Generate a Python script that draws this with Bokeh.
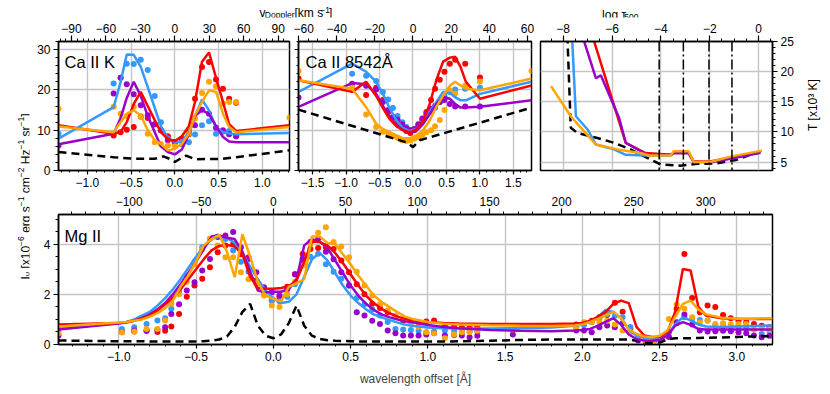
import math
from bokeh.plotting import figure
from bokeh.models import (Range1d, LinearAxis, SingleIntervalTicker, Label, Span,
                          CustomJSTickFormatter)
from bokeh.layouts import row, column
from bokeh.embed import file_html
from bokeh.resources import INLINE

NAN = float("nan")
C_KMS = 299792.458
LAM_CAK = 3933.66
LAM_CA8 = 8542.09
LAM_MGK = 2796.35

RED = "#ff0000"
BLUE = "#3399ff"
PURPLE = "#9900cc"
ORANGE = "#ffa500"

# ---------------- Ca II K ----------------
CAK_X = [-1.33, -0.70, -0.62, -0.55, -0.47, -0.39, -0.31, -0.23, -0.16, -0.08, 0.0,
         0.08, 0.16, 0.23, 0.31, 0.39, 0.47, 0.55, 0.62, 0.70, 1.31]
CAK_FIT_BLUE = [7.9, 15.7, 22.0, 28.8, 28.7, 25.7, 20.7, 15.5, 11.0, 8.0, 7.0, 7.2, 9.5, 13.5, 17.6, 14.9, 10.8, 9.5, 9.2, 9.0, 9.3]
CAK_FIT_RED = [11.2, 9.1, 9.6, 12.0, 16.5, 19.5, 16.0, 12.5, 9.5, 7.8, 7.3, 8.5, 11.0, 17.0, 27.0, 29.3, 23.0, 17.0, 11.5, 9.8, 11.2]
CAK_FIT_PURPLE = [6.5, 9.1, 13.0, 18.0, 22.0, 18.5, 13.5, 9.5, 6.0, 4.6, 4.0, 5.2, 9.0, 13.5, 15.0, 14.0, 11.0, 8.3, 7.2, 7.0, 7.0]
CAK_FIT_ORANGE = [10.9, 9.5, 12.0, 14.1, 14.9, 13.7, 10.0, 7.5, 6.6, 5.0, 5.4, 6.6, 9.1, 13.7, 17.0, 19.9, 19.5, 14.1, 10.8, 9.5, 10.8]
CAK_OBS_BLUE = [9.1, 21.6, 23.0, 26.5, 26.4, 27.5, 24.9, 18.5, 12.0, 7.9, 7.0, 6.5, 7.0, 8.9, 11.2, 12.2, 9.1, 9.6, 9.8, 8.5, NAN]
CAK_OBS_RED = [NAN, 8.7, 9.5, 10.1, 10.8, 13.4, 13.0, 11.5, 10.0, 8.5, 7.0, 7.5, 9.0, 17.8, 25.7, 26.9, 22.6, 20.3, 17.8, 16.8, NAN]
CAK_OBS_PURPLE = [6.2, 19.1, 23.0, 21.4, 18.9, 16.2, 13.7, 11.5, 10.0, 7.5, 7.0, 7.9, 9.5, 11.2, 15.1, 14.1, 10.6, 10.0, 9.0, 8.5, NAN]
CAK_OBS_ORANGE = [15.3, 15.8, 14.1, 13.5, 15.8, 13.3, 9.1, 7.0, 6.6, 6.2, 6.0, 7.0, 9.1, 12.9, 19.2, 22.0, 20.9, 16.6, 17.0, 17.0, 13.1]
CAK_REF_X = [-1.33, -0.70, -0.47, -0.23, -0.13, -0.06, 0.0, 0.06, 0.13, 0.23, 0.55, 0.70, 1.31]
CAK_REF_Y = [4.6, 3.3, 2.9, 2.9, 3.5, 2.9, 2.1, 2.9, 3.7, 2.8, 2.9, 3.3, 5.0]

# ---------------- Ca II 8542 ----------------
CA8_X = [-1.71, -0.91, -0.70, -0.55, -0.45, -0.35, -0.25, -0.15, -0.05, 0.05, 0.15, 0.25,
         0.35, 0.45, 0.55, 0.63, 0.71, 0.79, 1.00, 1.77]
CA8_FIT_BLUE = [19.5, 26.5, 24.5, 22.0, 19.0, 15.5, 12.5, 10.5, 9.8, 10.3, 12.0, 14.5, 17.0, 19.5, 19.2, 18.2, 17.4, 17.4, 19.0, 22.0]
CA8_FIT_RED = [22.4, 19.5, 22.0, 18.5, 15.5, 12.8, 11.0, 10.0, 9.5, 10.2, 12.2, 16.5, 22.5, 27.0, 28.0, 28.2, 25.7, 22.0, 17.8, 21.1]
CA8_FIT_PURPLE = [15.8, 21.7, 21.4, 19.0, 16.0, 13.3, 11.3, 10.0, 9.3, 9.8, 11.5, 14.0, 16.5, 18.3, 17.8, 16.5, 15.6, 15.6, 15.8, 17.4]
CA8_FIT_ORANGE = [22.4, 20.3, 15.7, 11.6, 10.3, 9.5, 8.7, 8.0, 8.0, 8.7, 10.0, 12.4, 15.8, 18.6, 21.0, 22.0, 21.1, 20.3, 19.9, 22.8]
CA8_OBS_X = [-1.71, -0.91, -0.70, -0.55, -0.45, -0.37, -0.30, -0.23, -0.16, -0.10, -0.04, 0.02,
             0.08, 0.14, 0.20, 0.27, 0.33, 0.40, 0.47, 0.55, 0.63, 0.78, 1.00, 1.77]
CA8_OBS_BLUE = [NAN, 24.0, 23.5, 22.2, 19.5, 17.6, 15.5, 13.5, 12.0, 10.8, 10.1, 10.2, 11.0, 12.2, 13.5, 14.5, 15.5, 17.0, 18.5, 19.5, 20.1, 20.3, 20.5, NAN]
CA8_OBS_RED = [22.8, NAN, 18.7, 20.5, 17.5, 14.5, 13.0, 11.5, 10.6, 9.8, 9.3, 10.0, 11.2, 12.5, 14.5, 17.5, 20.3, 22.5, 24.5, 26.5, 27.5, 26.5, 23.1, NAN]
CA8_OBS_PURPLE = [18.1, 21.5, 21.0, 20.1, 17.0, 15.0, 13.3, 12.6, 11.5, 10.5, 10.0, 10.3, 11.5, 12.9, 14.0, 15.3, 16.0, 17.0, 17.5, 16.5, 15.9, 15.9, 15.9, NAN]
CA8_OBS_ORANGE = [24.7, 20.5, 13.9, 10.8, 9.6, 9.1, 8.5, 8.1, 7.5, 7.3, 7.5, 7.9, 8.3, 8.8, 9.5, 10.0, 11.0, 12.5, 15.0, 19.9, 19.1, 21.0, 22.1, 24.7]
CA8_REF_X = [-1.71, -0.10, 0.0, 0.10, 1.77]
CA8_REF_Y = [15.1, 7.0, 5.8, 7.5, 15.6]

# ---------------- Temperature ----------------
TAU_REF = [-7.83, -7.69, -7.41, -6.6, -5.92, -5.24, -4.56, -4.01, -3.2, -2.51, -1.7, -0.88, 0.07]
T_REF = [26.0, 10.7, 9.8, 9.0, 8.2, 7.1, 5.7, 4.6, 4.4, 4.7, 4.8, 5.4, 6.8]
TAU_BLUE = [-7.64, -7.48, -7.0, -6.66, -5.92, -5.44, -4.69, -3.6, -3.47, -2.86, -2.66, -1.9, -1.1, 0.07]
T_BLUE = [26.0, 12.6, 10.4, 7.9, 7.1, 6.2, 6.1, 6.1, 6.5, 6.5, 5.0, 5.1, 5.7, 6.5]
TAU_RED = [-6.81, -5.44, -4.63, -3.6, -3.47, -2.86, -2.66, -1.98, -1.16, 0.07]
T_RED = [26.0, 8.2, 6.5, 6.2, 6.5, 6.5, 5.1, 5.1, 5.7, 6.6]
TAU_PURPLE = [-7.22, -6.66, -6.46, -5.71, -5.44, -4.56, -3.6, -3.47, -2.86, -2.66, -1.9, -1.1, 0.07]
T_PURPLE = [26.0, 18.9, 19.4, 12.3, 8.2, 6.2, 6.2, 6.5, 6.5, 5.0, 5.0, 5.6, 6.6]
TAU_ORANGE = [-8.5, -7.69, -7.28, -6.66, -5.78, -4.83, -4.49, -3.6, -3.47, -2.86, -2.66, -1.91, -1.16, 0.14]
T_ORANGE = [17.6, 12.6, 10.7, 7.9, 7.1, 6.5, 6.1, 6.1, 6.8, 6.8, 5.0, 5.1, 5.9, 6.9]
TAU_MARKS = [-4.07, -3.08, -2.03, -1.09]

# ---------------- Mg II ----------------
MG_X = [-1.39, -1.0, -0.95, -0.9, -0.85, -0.8, -0.75, -0.7, -0.65, -0.6, -0.55, -0.5, -0.45, -0.4,
        -0.35, -0.3, -0.25, -0.2, -0.15, -0.1, -0.05, 0.0, 0.05, 0.1, 0.15, 0.2, 0.25, 0.3, 0.35,
        0.4, 0.45, 0.5, 0.55, 0.6, 0.65, 0.7, 0.75, 0.8, 0.85, 0.9, 1.0, 1.1, 1.2, 1.4, 1.6, 1.8,
        1.95, 2.0, 2.05, 2.1, 2.15, 2.2, 2.25, 2.3, 2.35, 2.4, 2.45, 2.5, 2.55, 2.6, 2.65, 2.7,
        2.75, 2.8, 2.9, 3.0, 3.1, 3.23]
MG_FIT_BLUE = [0.68, 0.85, 0.9, 1.0, 1.15, 1.3, 1.55, 1.85, 2.2, 2.6,
               3.05, 3.5, 3.9, 4.2, 4.3, 4.25, 4.05, 3.65, 3.1, 2.6,
               2.15, 1.85, 1.65, 1.7, 2.0, 2.7, 3.4, 3.65, 3.35, 2.85,
               2.35, 1.95, 1.65, 1.4, 1.2, 1.08, 0.98, 0.88, 0.8, 0.75,
               0.68, 0.65, 0.64, 0.64, 0.65, 0.68, 0.75, 0.8, 0.9, 1.1,
               1.38, 1.3, 1.05, 0.6, 0.35, 0.28, 0.25, 0.28, 0.4, 0.8,
               1.08, 0.96, 0.8, 0.72, 0.7, 0.72, 0.74, 0.76]
MG_FIT_RED = [0.8, 0.86, 0.9, 0.95, 1.05, 1.15, 1.35, 1.6, 1.85, 2.2,
              2.6, 3.0, 3.4, 3.75, 3.93, 3.97, 3.9, 3.6, 2.7, 2.25,
              2.22, 2.22, 2.25, 2.32, 2.55, 3.3, 4.1, 4.08, 3.95, 3.65,
              3.25, 2.8, 2.35, 1.95, 1.65, 1.42, 1.25, 1.12, 1.02, 0.97,
              0.9, 0.86, 0.84, 0.82, 0.82, 0.82, 0.84, 0.86, 0.95, 1.1,
              1.3, 1.62, 1.75, 1.65, 0.7, 0.36, 0.3, 0.3, 0.49, 1.3,
              3.01, 2.95, 1.5, 1.15, 1.05, 1.02, 1.02, 1.02]
MG_FIT_PURPLE = [0.6, 0.84, 0.88, 0.95, 1.05, 1.2, 1.4, 1.65, 2.0, 2.4,
                 2.85, 3.3, 3.8, 4.3, 4.35, 4.25, 4.2, 3.7, 2.9, 2.15,
                 2.08, 2.1, 2.1, 2.2, 2.6, 3.95, 4.2, 4.1, 3.85, 3.35,
                 2.85, 2.35, 1.95, 1.62, 1.38, 1.2, 1.09, 1.0, 0.93, 0.89,
                 0.78, 0.7, 0.65, 0.58, 0.55, 0.53, 0.56, 0.58, 0.62, 0.75,
                 0.9, 1.05, 0.78, 0.4, 0.22, 0.16, 0.15, 0.18, 0.35, 0.75,
                 0.89, 0.78, 0.62, 0.6, 0.6, 0.6, 0.6, 0.6]
MG_FIT_ORANGE = [0.72, 0.88, 0.9, 0.95, 1.0, 1.1, 1.25, 1.45, 1.75, 2.3,
                 2.75, 3.3, 3.95, 4.2, 4.37, 3.7, 2.68, 4.4, 3.5, 2.5,
                 1.95, 1.82, 1.72, 2.3, 2.45, 2.6, 4.3, 4.3, 4.05, 4.0,
                 3.6, 3.2, 2.75, 2.35, 1.95, 1.7, 1.5, 1.3, 1.12, 1.02,
                 0.9, 0.83, 0.8, 0.77, 0.75, 0.74, 0.76, 0.8, 0.9, 1.02,
                 1.15, 1.31, 1.05, 0.6, 0.42, 0.32, 0.29, 0.35, 0.56, 1.1,
                 1.62, 1.75, 1.4, 1.2, 1.07, 1.03, 1.03, 1.05]
MG_REF = [0.16, 0.13, 0.13, 0.13, 0.13, 0.12, 0.12, 0.12, 0.12, 0.12,
          0.12, 0.12, 0.13, 0.15, 0.2, 0.32, 0.7, 1.3, 1.62, 0.75,
          0.35, 0.25, 0.4, 0.85, 1.55, 0.75, 0.35, 0.22, 0.17, 0.15,
          0.14, 0.13, 0.12, 0.12, 0.12, 0.12, 0.12, 0.12, 0.12, 0.12,
          0.12, 0.12, 0.13, 0.15, 0.18, 0.2, 0.2, 0.2, 0.2, 0.2,
          0.2, 0.2, 0.2, 0.2, 0.15, 0.08, 0.06, 0.08, 0.2, 0.25,
          0.25, 0.25, 0.26, 0.27, 0.28, 0.3, 0.32, 0.33]

MG_OBS_X = [-1.39, -0.98, -0.90, -0.82, -0.75, -0.70, -0.66, -0.61, -0.56, -0.51, -0.46, -0.41,
            -0.36, -0.31, -0.26, -0.21, -0.16, -0.11, -0.06, -0.01,
            0.04, 0.09, 0.14, 0.19, 0.24, 0.29, 0.34, 0.39, 0.44, 0.49, 0.54, 0.59, 0.64, 0.69,
            0.74, 0.79, 0.84, 0.89, 0.94, 0.99,
            1.04, 1.11, 1.17, 1.22, 1.27, 1.32, 1.55,
            1.96, 2.01, 2.06, 2.11, 2.16, 2.21, 2.26, 2.31, 2.36, 2.41, 2.46, 2.51, 2.56, 2.61,
            2.66, 2.71, 2.76, 2.81, 2.86, 2.91, 2.96, 3.01, 3.06, 3.11, 3.16, 3.21]
MG_OBS_BLUE = [0.55,
               0.62, 0.69, 0.82, 0.96, 1.05, 1.42, 2.1, 2.75, 3.3, 3.88, 4.21, 4.3, 4.2, 3.75, 3.3, 2.9, 2.45, 2.08, 1.75,
               1.72, 1.9, 2.4, 3.2, 3.5, 3.62, 3.2, 2.9, 2.62, 2.35, 1.85, 1.6, 1.4, 1.16, 0.9, 0.62, 0.6, 0.58, 0.56, 0.49,
               0.52, 0.56, 0.55, 0.52, 0.52, 0.5, 0.6,
               0.7, 0.78, 0.89, 1.05, 1.22, 1.15, 1.09, 0.7, 0.3, 0.18, 0.12, 0.2, 0.5, 0.85, 1.09, 1.02, 0.98, 0.96,
               0.76, 0.72, 0.7, 0.7, 0.65, 0.6, 0.42, 0.55]
MG_OBS_RED = [NAN,
              0.55, 0.52, 0.55, 0.5, 0.55, 0.72, 1.22, 1.9, 2.35, 2.62, 3.08, 3.68, 3.94, 4.0, 3.6, 3.48, 2.55, 2.22, 1.75,
              1.89, 2.3, 2.8, 3.61, 3.81, 3.85, 3.88, 3.81, 3.35, 2.88, 2.4, 2.0, 1.62, 1.45, 1.29, 1.1, 0.96, 0.92, 0.89, 0.92,
              0.96, 0.76, 0.75, 0.7, 0.7, 0.72, NAN,
              0.8, 0.86, 0.95, 1.1, 1.18, 1.66, 1.3, 0.62, 0.3, 0.2, 0.15, 0.2, 0.5, 1.42, 3.61, 1.85, 1.29, 1.55,
              1.49, 1.18, 1.05, 0.95, 0.89, 0.82, 0.75, 0.7]
MG_OBS_PURPLE = [0.36,
                 0.49, 0.56, 0.55, 0.6, 0.69, 1.22, 1.6, 2.15, 2.48, 2.95, 3.41, 4.28, 4.34, 4.48, 3.88, 3.41, 2.88, 2.28, 2.08,
                 1.95, 2.2, 2.8, 3.41, 4.08, 4.21, 3.7, 3.4, 2.88, 2.35, 1.29, 1.16, 0.95, 0.82, 0.56, 0.45, 0.36, 0.36, 0.36, 0.4,
                 0.45, 0.36, 0.38, 0.36, 0.29, 0.35, 0.4,
                 0.56, 0.56, 0.49, 0.69, 0.76, 0.69, 0.85, 0.5, 0.16, 0.09, 0.12, 0.2, 0.3, 0.89, 1.2, 0.8, 0.56, 0.52,
                 0.53, 0.55, 0.53, 0.49, 0.45, 0.36, 0.29, 0.35]
MG_OBS_ORANGE = [0.45,
                 0.49, 0.52, 0.62, 0.62, 0.96, 1.62, 2.0, 2.5, 3.2, 3.8, 4.21, 3.94, 3.48, 3.48, 2.88, 2.6, 2.42, 1.95, 1.55,
                 1.49, 2.0, 2.5, 3.15, 4.0, 4.45, 4.67, 4.08, 3.9, 3.48, 2.9, 2.35, 1.95, 1.6, 1.35, 1.15, 1.02, 0.82, 0.7, 0.49,
                 0.45, 0.25, 0.4, 0.49, 0.5, 0.55, 0.6,
                 0.69, 0.89, 0.9, 0.89, 0.95, 0.8, 0.56, 0.5, 0.25, 0.15, 0.12, 0.3, 1.02, 1.59, 1.42, 1.09, 0.89, 0.95,
                 0.82, 0.85, 0.8, 0.82, 0.82, 0.6, 0.65, 0.6]

# ---------------- layout (page pixels) ----------------
FONT = "Liberation Sans"
GRID = "#c4c4c4"

R1 = ((-1.33, 1.31), (0, 32))
R2 = ((-1.71, 1.77), (0, 32))
R3 = ((-8.93, 0.57), (3.6, 25))
R4 = ((-1.39, 3.23), (0, 5.18))
# frame geometry in page pixels (left, top, width, height) + data ranges
G1 = (58, 41, 231, 129) + R1
G2 = (298, 41, 233, 129) + R2
G3 = (540, 41, 232, 129) + R3
G4 = (58, 214, 714, 130) + R4
# label-carrier panels (left, top, width, height)
CL = (0, 0, 30, 393)
CT = (30, 0, 798, 18)
CR = (797, 18, 31, 173)
CB = 1  # carrier border

# Arial / Liberation Sans advance widths (em)
CW = {' ': .278, '[': .278, ']': .278, 'x': .5, '0': .556, '1': .556, '2': .556, '5': .556,
      '6': .556, '\u2212': .584, 'e': .556, 'r': .333, 'g': .556, 's': .5, 'c': .5, 'm': .833,
      'H': .722, 'z': .5, 'I': .278, '\u03bd': .5, 'v': .5, 'D': .722, 'o': .556, 'p': .556,
      'l': .222, 'k': .5, '\u03c4': .45}


def tw(s, size):
    return sum(CW.get(c, .556) for c in s) * size


def page_to_data(g, px, py):
    left, top, w, h, (x0, x1), (y0, y1) = g
    return x0 + (px - left) / w * (x1 - x0), y1 - (py - top) / h * (y1 - y0)


def rich(fig, g, px, py, pieces, vertical=False):
    off = 0.0
    for txt, size, shift in pieces:
        lead = len(txt) - len(txt.lstrip(' '))
        off += lead * CW[' '] * size
        t = txt.strip(' ')
        if vertical:
            x, y = page_to_data(g, px - shift, py - off)
            ang = math.pi / 2
        else:
            x, y = page_to_data(g, px + off, py - shift)
            ang = 0.0
        fig.add_layout(Label(x=x, y=y, text=t, angle=ang, text_align="left",
                             text_baseline="alphabetic", text_font=FONT,
                             text_font_size="%spx" % size, text_color="black"))
        off += tw(t, size)


FMT1 = CustomJSTickFormatter(code="""
if (Math.abs(tick) < 1e-9) { return "0.0"; }
return tick.toFixed(1).replace("-", "\\u2212");
""")
FMT_NONE = CustomJSTickFormatter(code="return '';")


def style_axis(ax, out=4, minor_out=2, standoff=3, size="12px"):
    ax.major_tick_in = 0
    ax.minor_tick_in = 0
    ax.major_tick_out = out
    ax.minor_tick_out = minor_out
    ax.major_label_standoff = standoff
    ax.major_label_text_font = FONT
    ax.major_label_text_font_size = size
    ax.major_label_text_color = "black"
    ax.axis_line_color = "black"
    ax.axis_line_width = 1.5
    ax.major_tick_line_color = "black"
    ax.major_tick_line_width = 1.2
    ax.minor_tick_line_color = "black"
    ax.minor_tick_line_width = 1.0


def make_fig(w, h, rng, bl, br, bt, bb, xloc="below", yloc="left"):
    p = figure(width=w, height=h, x_range=Range1d(*rng[0]), y_range=Range1d(*rng[1]),
               output_backend="svg", toolbar_location=None, tools="", title=None,
               x_axis_location=xloc, y_axis_location=yloc, sizing_mode="fixed",
               min_border_left=bl, min_border_right=br, min_border_top=bt, min_border_bottom=bb)
    p.outline_line_color = "black"
    p.outline_line_width = 1.5
    p.outline_line_alpha = 1.0
    p.grid.grid_line_color = GRID
    p.grid.grid_line_width = 1.4
    p.background_fill_color = "white"
    p.border_fill_color = "white"
    return p


def carrier(c):
    left, top, w, h = c
    fw, fh = w - 2 * CB, h - 2 * CB
    f = figure(width=w, height=h, x_range=Range1d(0, fw), y_range=Range1d(0, fh),
               output_backend="svg", toolbar_location=None, tools="", title=None,
               x_axis_location=None, y_axis_location=None, sizing_mode="fixed", min_border=CB,
               min_border_left=CB, min_border_right=CB, min_border_top=CB, min_border_bottom=CB)
    f.outline_line_color = None
    f.grid.visible = False
    f.xgrid.grid_line_color = None
    f.ygrid.grid_line_color = None
    f.background_fill_color = "white"
    f.border_fill_color = "white"
    return f, (left + CB, top + CB, fw, fh, (0, fw), (0, fh))


def add_top_axis(p, rng, interval, minor):
    p.extra_x_ranges = {"v": Range1d(*rng)}
    ax = LinearAxis(x_range_name="v", ticker=SingleIntervalTicker(interval=interval, num_minor_ticks=minor))
    style_axis(ax, out=6, minor_out=3, standoff=3)
    p.add_layout(ax, "above")


def draw_set(p, obs_x, obs, fit_x, fits, ref_x, ref_y):
    for col, ys in zip([RED, BLUE, PURPLE, ORANGE], obs):
        p.scatter(obs_x, ys, size=6, fill_color=col, line_color=None)
    p.line(ref_x, ref_y, line_color="black", line_width=2.5, line_dash="8 5")
    for col, ys in zip([BLUE, PURPLE, RED, ORANGE], fits):
        p.line(fit_x, ys, line_color=col, line_width=2.5)


def panel_label(p, g, px, py, text):
    x, y = page_to_data(g, px, py)
    p.add_layout(Label(x=x, y=y, text=text, text_baseline="alphabetic", text_align="left",
                       text_font=FONT, text_font_size="16.5px", text_color="black"))


# ---- panel 1: Ca II K ----
p1 = make_fig(263, 173, R1, 28, 4, 23, 21)
p1.xaxis[0].ticker = SingleIntervalTicker(interval=0.5, num_minor_ticks=5)
p1.xaxis[0].formatter = FMT1
p1.yaxis[0].ticker = SingleIntervalTicker(interval=10, num_minor_ticks=5)
style_axis(p1.xaxis[0], out=4, minor_out=2)
style_axis(p1.yaxis[0], out=5, minor_out=3)
add_top_axis(p1, (R1[0][0] * C_KMS / LAM_CAK, R1[0][1] * C_KMS / LAM_CAK), 30, 6)
draw_set(p1, CAK_X, [CAK_OBS_RED, CAK_OBS_BLUE, CAK_OBS_PURPLE, CAK_OBS_ORANGE],
         CAK_X, [CAK_FIT_BLUE, CAK_FIT_PURPLE, CAK_FIT_RED, CAK_FIT_ORANGE], CAK_REF_X, CAK_REF_Y)
panel_label(p1, G1, 64, 61.5, "Ca II K")

# ---- panel 2: Ca II 8542 ----
p2 = make_fig(242, 173, R2, 5, 4, 23, 21)
p2.xaxis[0].ticker = SingleIntervalTicker(interval=0.5, num_minor_ticks=5)
p2.xaxis[0].formatter = FMT1
p2.yaxis[0].ticker = SingleIntervalTicker(interval=10, num_minor_ticks=5)
p2.yaxis[0].formatter = FMT_NONE
style_axis(p2.xaxis[0], out=4, minor_out=2)
style_axis(p2.yaxis[0], out=4, minor_out=2, standoff=0)
add_top_axis(p2, (R2[0][0] * C_KMS / LAM_CA8, R2[0][1] * C_KMS / LAM_CA8), 20, 4)
draw_set(p2, CA8_OBS_X, [CA8_OBS_RED, CA8_OBS_BLUE, CA8_OBS_PURPLE, CA8_OBS_ORANGE],
         CA8_X, [CA8_FIT_BLUE, CA8_FIT_PURPLE, CA8_FIT_RED, CA8_FIT_ORANGE], CA8_REF_X, CA8_REF_Y)
panel_label(p2, G2, 305, 61.5, "Ca II 8542Å")

# ---- panel 3: temperature ----
p3 = make_fig(262, 173, R3, 5, 25, 23, 21, xloc="above", yloc="right")
p3.xaxis[0].ticker = SingleIntervalTicker(interval=2, num_minor_ticks=4)
p3.yaxis[0].ticker = SingleIntervalTicker(interval=5, num_minor_ticks=5)
style_axis(p3.xaxis[0], out=6, minor_out=3, standoff=3)
style_axis(p3.yaxis[0], out=5, minor_out=3, standoff=3)
for t in TAU_MARKS:
    p3.add_layout(Span(location=t, dimension="height", line_color="black", line_width=1.5,
                       line_dash="10 3 2 3"))
p3.line(TAU_REF, T_REF, line_color="black", line_width=2.5, line_dash="8 5")
for tx, ty, col in [(TAU_BLUE, T_BLUE, BLUE), (TAU_RED, T_RED, RED),
                    (TAU_PURPLE, T_PURPLE, PURPLE), (TAU_ORANGE, T_ORANGE, ORANGE)]:
    p3.line(tx, ty, line_color=col, line_width=2.5)

# ---- panel 4: Mg II ----
p4 = make_fig(798, 202, R4, 28, 56, 23, 49)
p4.xaxis[0].ticker = SingleIntervalTicker(interval=0.5, num_minor_ticks=5)
p4.xaxis[0].formatter = FMT1
p4.yaxis[0].ticker = SingleIntervalTicker(interval=2, num_minor_ticks=4)
style_axis(p4.xaxis[0], out=4, minor_out=2)
style_axis(p4.yaxis[0], out=5, minor_out=3)
p4.xaxis[0].axis_label = "wavelength offset [Å]"
p4.xaxis[0].axis_label_text_font = FONT
p4.xaxis[0].axis_label_text_font_size = "12px"
p4.xaxis[0].axis_label_text_font_style = "normal"
p4.xaxis[0].axis_label_standoff = 8
add_top_axis(p4, (R4[0][0] * C_KMS / LAM_MGK, R4[0][1] * C_KMS / LAM_MGK), 50, 5)
draw_set(p4, MG_OBS_X, [MG_OBS_RED, MG_OBS_BLUE, MG_OBS_PURPLE, MG_OBS_ORANGE],
         MG_X, [MG_FIT_BLUE, MG_FIT_PURPLE, MG_FIT_RED, MG_FIT_ORANGE], MG_X, MG_REF)
panel_label(p4, G4, 64, 235, "Mg II")

# ---- label carriers (text outside the panel frames) ----
left_c, GL = carrier(CL)
top_c, GT = carrier(CT)
right_c, GR = carrier(CR)

rich(left_c, GL, 25, 279, [("I", 12, 0), ("\u03bd", 8.5, -2.5), (" [x10", 12, 0), ("\u22126", 8.5, 4.5),
                           (" erg s", 12, 0), ("\u22121", 8.5, 4.5), (" cm", 12, 0), ("\u22122", 8.5, 4.5),
                           (" Hz", 12, 0), ("\u22121", 8.5, 4.5), (" sr", 12, 0), ("\u22121", 8.5, 4.5),
                           ("]", 12, 0)], vertical=True)
rich(top_c, GT, 255, 12.5, [("v", 12, 0), ("Doppler", 8.5, -2.2), (" [km s", 12, 0),
                            ("\u22121", 8.5, 3.4), ("]", 12, 0)])
rich(top_c, GT, 637, 14.6, [("log \u03c4", 12, 0), ("500", 8.5, -2.0)])
tx_, ty_ = page_to_data(GR, 812, 103)
right_c.add_layout(Label(x=tx_, y=ty_, text="T [x10³ K]", angle=math.pi / 2, text_align="center",
                         text_baseline="middle", text_font=FONT, text_font_size="12px",
                         text_color="black"))

layout = row(left_c,
             column(top_c, row(p1, p2, p3, right_c, spacing=0, sizing_mode="fixed"), p4,
                    spacing=0, sizing_mode="fixed"),
             spacing=0, sizing_mode="fixed")

with open("out.html", "w", encoding="utf-8") as f:
    f.write(file_html(layout, INLINE))
